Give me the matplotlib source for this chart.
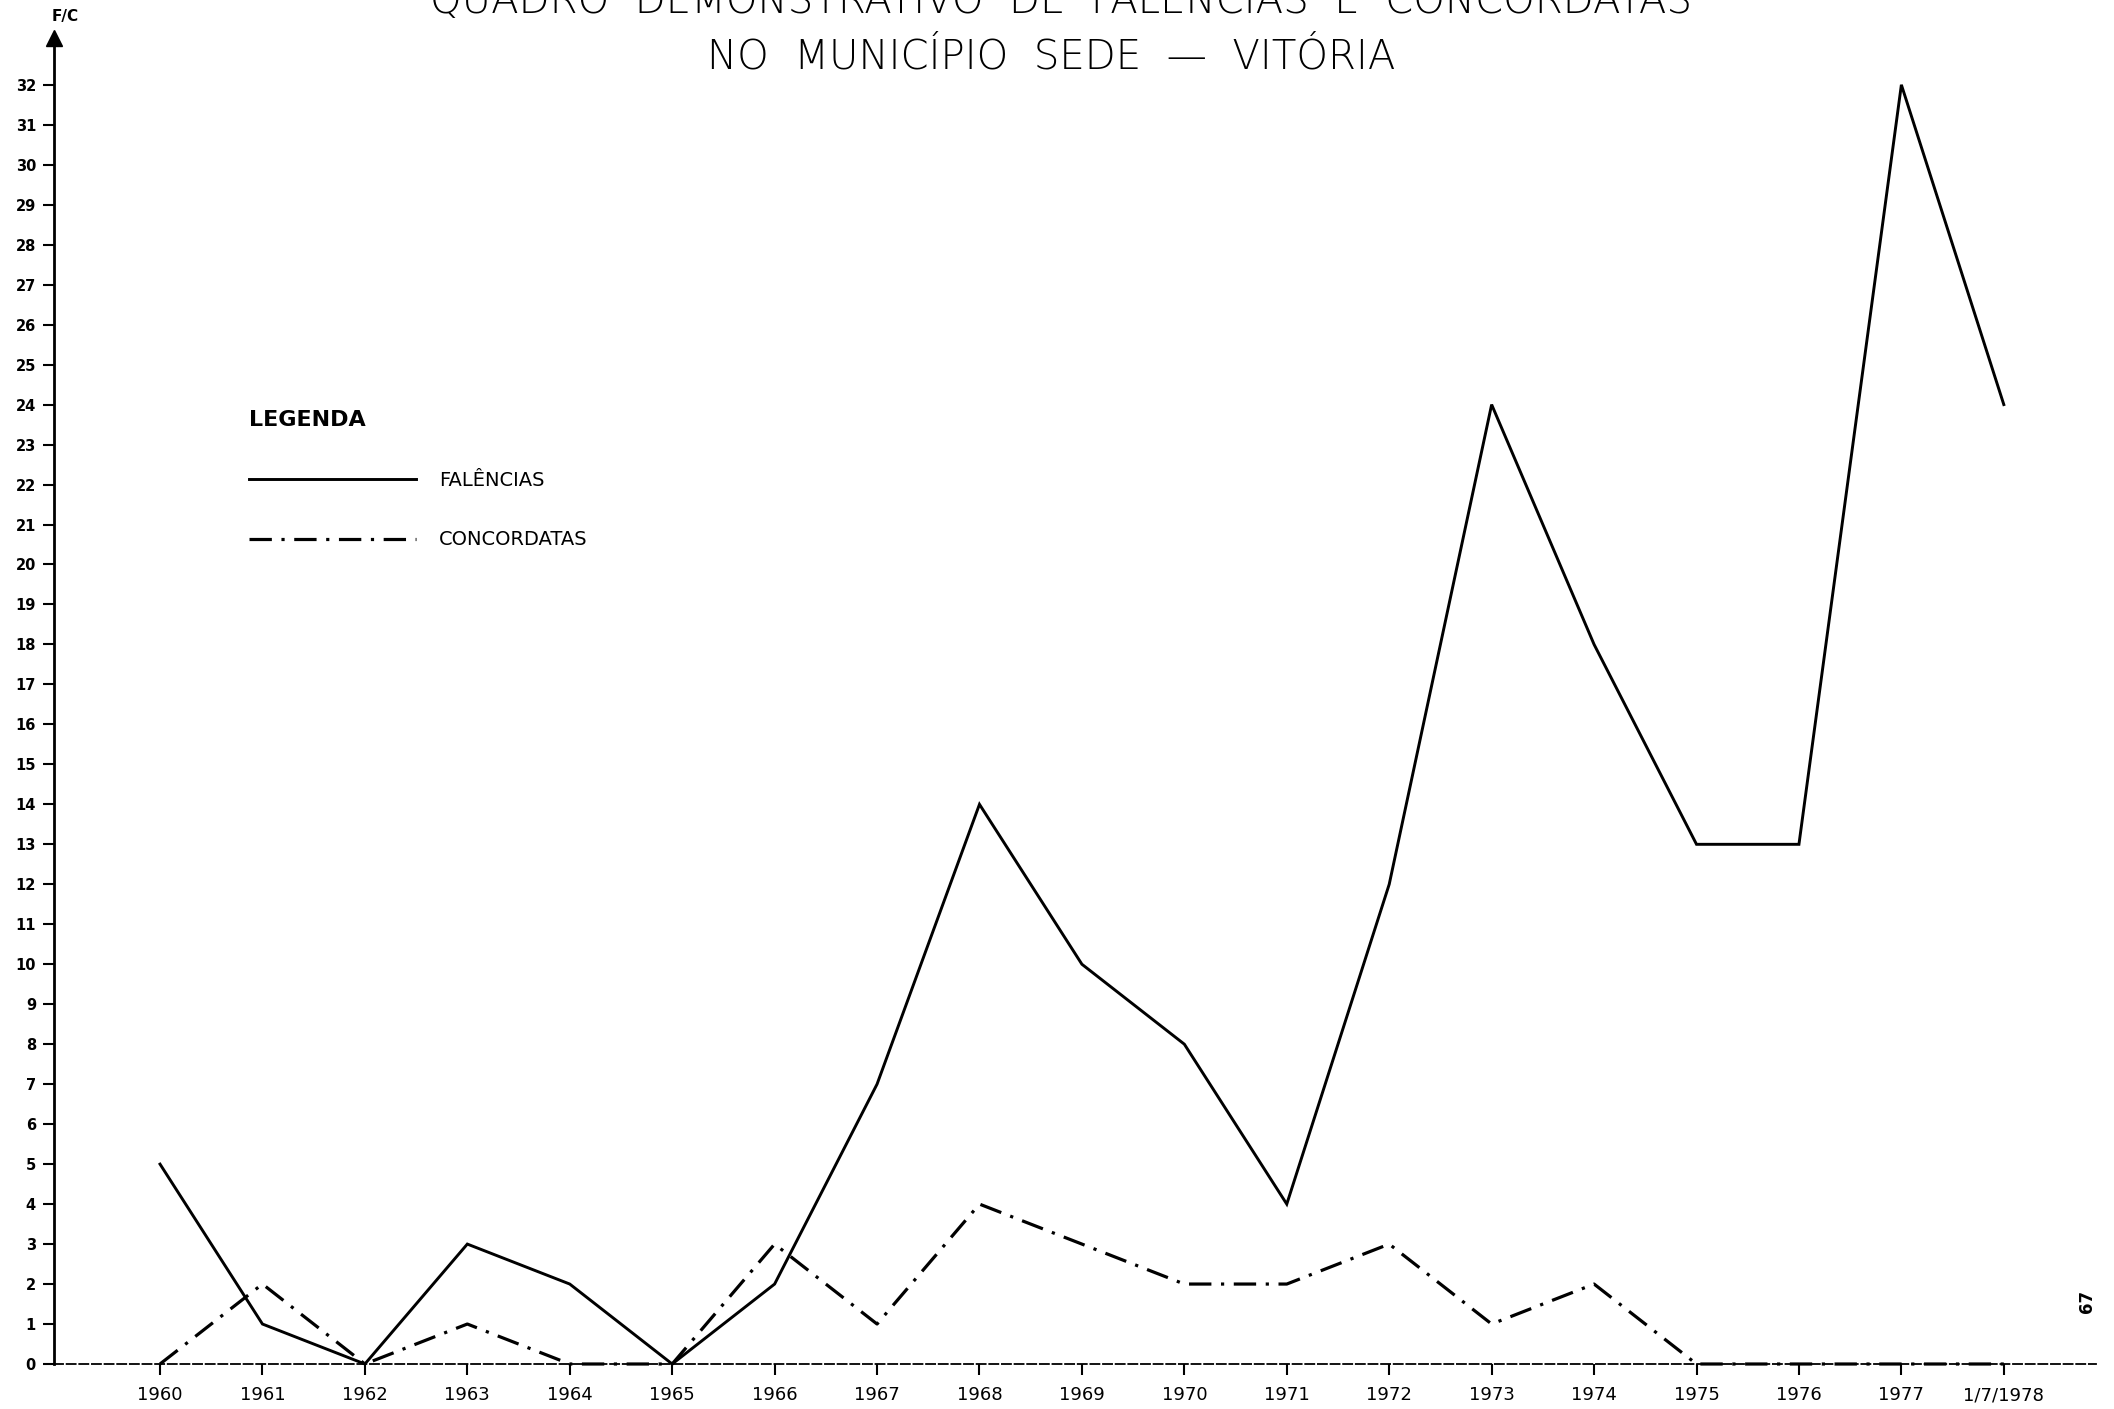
import matplotlib
matplotlib.use("Agg")
import matplotlib.pyplot as plt
from matplotlib.lines import Line2D

# ---- data ----
years = ["1960", "1961", "1962", "1963", "1964", "1965", "1966", "1967", "1968",
         "1969", "1970", "1971", "1972", "1973", "1974", "1975", "1976", "1977",
         "1/7/1978"]
falencias = [5, 1, 0, 3, 2, 0, 2, 7, 14, 10, 8, 4, 12, 24, 18, 13, 13, 32, 24]
concordatas = [0, 2, 0, 1, 0, 0, 3, 1, 4, 3, 2, 2, 3, 1, 2, 0, 0, 0, 0]
yticks = list(range(0, 33))

title1 = "QUADRO  DEMONSTRATIVO  DE  FALÊNCIAS  E  CONCORDATAS"
title2 = "NO  MUNICÍPIO  SEDE  —  VITÓRIA"

W, H = 2114, 1409
fig = plt.figure(figsize=(W / 100, H / 100), dpi=100)
fig.patch.set_facecolor("white")

narrow = ["Liberation Sans Narrow", "DejaVu Sans"]
bold = ["DejaVu Sans"]

# axes: y-axis at x=54px, x from 54 to 2096px; y=0 at 1364px, top (arrow) at 38px
left, right = 54, 2096
bottom, top = 1364, 38
ax = fig.add_axes([left / W, 1 - bottom / H, (right - left) / W, (bottom - top) / H])

x = list(range(len(years)))
ax.set_xlim(-1.035, 18.9)
ax.set_ylim(0, 33.17)

ax.plot(x, falencias, color="black", lw=2.1, solid_joinstyle="miter",
        label="FALÊNCIAS", clip_on=False, zorder=3)
ax.plot(x, concordatas, color="black", lw=2.3, linestyle=(0, (7, 3, 1, 3)),
        label="CONCORDATAS", clip_on=False, zorder=3)

# spines
for s in ["top", "right"]:
    ax.spines[s].set_visible(False)
ax.spines["left"].set_linewidth(2.0)
ax.spines["bottom"].set_linewidth(1.3)
ax.spines["bottom"].set_linestyle((0, (5, 2)))

# arrow on y-axis
ax.plot([ax.get_xlim()[0]], [ax.get_ylim()[1]], marker="^", color="black",
        markersize=11, clip_on=False)

ax.set_yticks(yticks)
ax.set_yticklabels([str(v) for v in yticks], fontweight="bold", fontsize=10.5,
                   family=bold)
ax.set_xticks(x)
ax.set_xticklabels(years, fontsize=13, family=narrow)
ax.tick_params(axis="y", direction="out", length=8, width=1.5, pad=5)
ax.tick_params(axis="x", direction="out", length=8, width=1.5, pad=8)

# F/C label
fig.text(65 / W, 1 - 16 / H, "F/C", fontsize=11, fontweight="bold",
         ha="center", va="center", family=bold)

# titles
fig.text(1061 / W, 1 + 1 / H, title1, fontsize=29, ha="center", va="center",
         family=narrow, fontweight="light")
fig.text(1051 / W, 1 - 57 / H, title2, fontsize=29, ha="center",
         va="center", family=narrow, fontweight="light")

# legend
handles = [Line2D([], [], color="black", lw=2.1),
           Line2D([], [], color="black", lw=2.3, linestyle=(0, (7, 3, 1, 3)))]
leg = fig.legend(handles, ["FALÊNCIAS", "CONCORDATAS"], loc="upper left",
                 bbox_to_anchor=(239 / W, 1 - 400 / H), frameon=False,
                 borderpad=0, handlelength=8.6, handletextpad=1.2,
                 labelspacing=2.1, title="LEGENDA", alignment="left",
                 prop={"size": 14, "family": bold},
                 title_fontproperties={"size": 16, "family": bold,
                                       "weight": "bold"})

# page number
fig.text(2087 / W, 1 - 1301 / H, "67", rotation=90, fontsize=12,
         fontweight="bold", ha="center", va="center", family=bold)

fig.savefig("out.png", dpi=100, facecolor="white")
